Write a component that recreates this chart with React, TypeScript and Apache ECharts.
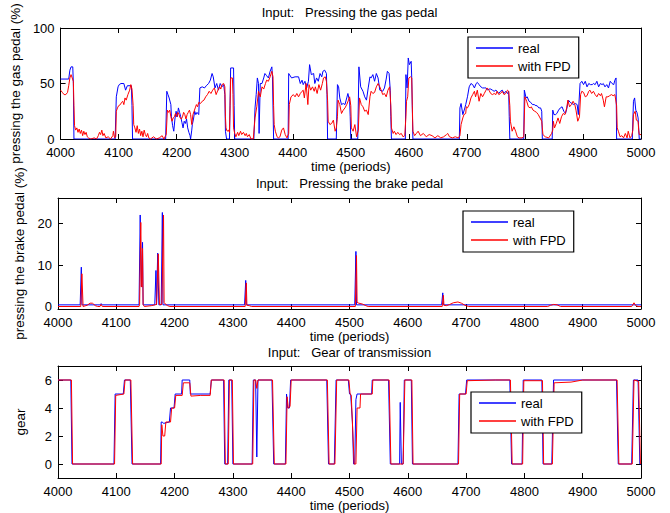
import React, { useEffect, useRef } from "react";
import * as echarts from "echarts";

const FONT = "Liberation Sans, Arial, Helvetica, sans-serif";

const titles = [
  "Input:   Pressing the gas pedal",
  "Input:   Pressing the brake pedal",
  "Input:   Gear of transmission",
];
const yNames = ["pressing the gas pedal (%)", "pressing the brake pedal (%)", "gear"];
const xName = "time (periods)";
const seriesNames = ["real", "with FPD"];

const xMin = 4000;
const xMax = 5000;
const xStep = 100;

const gasTicks = [0, 50, 100];
const brakeTicks = [0, 10, 20];
const gearTicks = [0, 2, 4, 6];

const gasReal = [
  [4000,54],[4014,54],[4016,62],[4018,65],[4021,65],[4022,50],[4023,0],
  [4094,0],[4096,38],[4099,47],[4101,49],[4104,50],[4109,50],[4112,44],[4115,48],[4122,48],[4123,30],[4124,0],
  [4181,0],[4183,43],[4185,40],[4187,37],[4190,31],[4191,20],[4193,12],[4195,7],[4197,18],[4199,25],[4201,20],[4203,28],[4205,24],[4207,20],[4209,15],[4211,10],[4213,16],[4215,14],[4217,18],[4219,10],[4221,6],[4223,3],[4224,0],[4226,8],[4227,13],[4229,18],[4231,25],[4233,22],[4235,24],[4238,22],[4240,46],[4244,47],[4248,46],[4251,48],[4255,50],[4258,53],[4261,59],[4263,56],[4266,46],[4269,50],[4272,44],[4275,50],[4278,47],[4281,49],[4283,40],[4284,7],[4286,0],[4291,0],[4293,64],[4298,64],[4299,30],[4300,0],
  [4333,0],[4335,28],[4337,40],[4339,55],[4341,50],[4342,5],[4344,50],[4347,50],[4350,55],[4352,59],[4355,57],[4358,55],[4361,61],[4364,65],[4365,56],[4367,0],
  [4392,0],[4393,59],[4398,55],[4404,56],[4410,56],[4413,50],[4416,53],[4418,49],[4421,52],[4424,46],[4427,52],[4429,67],[4432,58],[4436,59],[4438,50],[4441,55],[4444,52],[4447,59],[4450,56],[4452,61],[4455,62],[4458,59],[4459,40],[4460,0],
  [4475,0],[4477,49],[4479,47],[4481,37],[4484,31],[4487,32],[4490,31],[4493,37],[4495,41],[4498,34],[4499,20],[4500,0],
  [4512,0],[4514,65],[4517,47],[4521,43],[4524,38],[4527,35],[4530,46],[4533,56],[4535,55],[4538,58],[4541,52],[4544,59],[4547,55],[4550,44],[4555,43],[4558,46],[4561,54],[4563,61],[4566,59],[4568,44],[4569,20],[4570,0],
  [4594,0],[4595,58],[4597,46],[4599,73],[4601,67],[4604,70],[4605,55],[4607,0],
  [4687,0],[4688,28],[4690,32],[4693,22],[4696,27],[4698,31],[4701,38],[4704,47],[4707,50],[4710,49],[4713,46],[4716,50],[4718,51],[4721,49],[4724,47],[4727,46],[4730,46],[4733,46],[4736,44],[4738,45],[4741,45],[4744,44],[4747,43],[4750,44],[4752,43],[4755,41],[4758,43],[4761,44],[4764,41],[4767,43],[4770,41],[4772,43],[4773,20],[4774,0],
  [4798,0],[4799,44],[4802,37],[4804,38],[4807,34],[4810,33],[4813,31],[4816,31],[4819,30],[4821,30],[4824,28],[4827,28],[4829,25],[4830,0],
  [4847,0],[4848,26],[4850,22],[4853,22],[4855,23],[4858,26],[4861,28],[4864,29],[4867,25],[4870,23],[4872,27],[4875,35],[4878,33],[4881,32],[4884,31],[4887,32],[4890,31],[4892,22],[4895,50],[4898,52],[4901,49],[4904,52],[4907,47],[4910,50],[4913,49],[4916,49],[4918,50],[4921,49],[4924,52],[4927,47],[4930,50],[4933,49],[4935,50],[4938,47],[4941,49],[4944,46],[4947,52],[4950,50],[4953,49],[4955,53],[4957,55],[4958,0],
  [4985,0],[4987,34],[4989,37],[4991,26],[4993,24],[4995,19],[4996,10],[4997,0],[5000,0],
];

const gasFPD = [
  [4000,44],[4003,42],[4006,40],[4009,40],[4012,42],[4014,48],[4016,55],[4018,58],[4020,55],[4022,52],[4023,30],[4024,12],[4026,8],[4028,10],[4030,6],[4032,9],[4034,5],[4036,8],[4038,3],[4040,7],[4042,4],[4044,6],[4046,2],[4048,1],[4052,0],[4058,1],[4062,0],[4065,3],[4067,6],[4069,4],[4071,8],[4073,3],[4075,5],[4078,1],[4082,2],[4086,0],[4090,3],[4091,7],[4093,1],[4095,2],
  [4096,25],[4098,28],[4100,30],[4103,31],[4105,33],[4107,34],[4109,31],[4111,37],[4113,35],[4116,40],[4119,44],[4121,49],[4123,45],[4125,30],[4126,13],[4128,10],[4130,6],[4132,12],[4134,5],[4136,9],[4138,3],[4140,7],[4142,2],[4144,8],[4146,4],[4148,2],[4150,5],[4152,1],[4155,0],[4160,2],[4165,0],[4170,1],[4175,3],[4178,0],[4182,4],
  [4184,26],[4186,24],[4188,26],[4190,20],[4192,16],[4194,19],[4196,20],[4198,23],[4200,20],[4202,24],[4204,22],[4206,19],[4208,18],[4210,20],[4212,24],[4214,22],[4216,18],[4218,22],[4220,24],[4222,26],[4224,22],[4226,13],[4228,22],[4230,25],[4232,28],[4234,31],[4236,29],[4238,33],[4241,32],[4244,34],[4247,35],[4250,38],[4253,40],[4256,43],[4259,41],[4262,44],[4265,46],[4268,40],[4271,44],[4274,47],[4276,45],[4278,49],[4281,50],[4283,47],[4284,20],[4285,10],[4287,7],[4289,8],[4291,6],[4292,30],[4293,55],[4296,55],[4297,40],[4298,10],[4300,5],[4302,2],[4305,6],[4307,3],[4310,7],[4312,4],[4315,6],[4318,3],[4320,5],[4322,2],[4325,4],[4328,0],[4332,0],
  [4335,19],[4338,29],[4341,43],[4344,38],[4347,47],[4350,45],[4353,50],[4355,53],[4358,52],[4361,56],[4364,61],[4366,56],[4367,30],[4368,13],[4370,7],[4373,2],[4375,1],[4378,2],[4381,8],[4384,10],[4387,4],[4390,1],[4393,5],[4394,31],[4397,38],[4401,40],[4404,38],[4407,41],[4410,38],[4413,41],[4416,43],[4418,44],[4420,37],[4423,50],[4426,31],[4428,49],[4431,44],[4434,47],[4437,43],[4439,47],[4442,41],[4445,49],[4448,44],[4451,50],[4453,55],[4456,56],[4458,52],[4460,35],[4461,16],[4464,13],[4467,14],[4470,17],[4473,7],[4475,10],[4477,20],[4478,35],[4481,31],[4484,23],[4487,26],[4490,28],[4493,31],[4496,35],[4498,38],[4500,30],[4501,10],[4504,7],[4507,13],[4510,2],[4513,8],
  [4515,37],[4518,31],[4521,29],[4524,25],[4527,26],[4530,22],[4533,38],[4535,43],[4538,41],[4541,42],[4544,47],[4547,50],[4550,47],[4553,43],[4555,40],[4558,41],[4561,38],[4564,44],[4567,47],[4569,30],[4570,10],[4573,5],[4575,7],[4578,4],[4581,6],[4584,4],[4587,5],[4590,2],[4593,3],[4595,20],[4596,34],[4598,38],[4600,55],[4603,56],[4605,55],[4606,30],[4607,7],[4610,3],[4613,5],[4616,7],[4620,3],[4625,5],[4630,2],[4635,4],[4640,3],[4645,1],[4650,3],[4655,1],[4660,2],[4665,4],[4667,5],[4670,2],[4675,1],[4680,2],[4685,1],[4688,3],
  [4690,13],[4693,19],[4695,22],[4698,23],[4699,29],[4701,28],[4704,31],[4707,37],[4710,40],[4713,43],[4715,38],[4718,44],[4721,34],[4724,41],[4727,38],[4730,41],[4733,44],[4735,46],[4738,44],[4741,41],[4744,40],[4747,41],[4750,40],[4752,43],[4755,40],[4758,41],[4761,43],[4764,40],[4767,41],[4770,44],[4772,43],[4774,30],[4775,16],[4778,7],[4781,11],[4784,7],[4787,2],[4790,1],[4795,1],[4798,2],
  [4800,38],[4803,34],[4806,29],[4809,28],[4811,29],[4814,26],[4817,25],[4820,24],[4823,22],[4826,19],[4829,16],[4830,10],[4831,4],[4835,2],[4841,1],[4846,5],[4848,8],
  [4849,16],[4851,10],[4854,14],[4857,19],[4860,14],[4863,20],[4866,23],[4869,22],[4872,28],[4874,35],[4877,29],[4880,31],[4883,34],[4886,31],[4888,26],[4891,16],[4894,20],[4896,40],[4898,43],[4901,42],[4904,38],[4907,39],[4910,43],[4912,44],[4915,41],[4918,43],[4921,40],[4924,38],[4927,41],[4930,39],[4932,41],[4935,35],[4937,29],[4940,38],[4943,38],[4946,39],[4949,40],[4952,39],[4955,40],[4958,30],[4959,10],[4961,7],[4964,2],[4967,3],[4970,1],[4973,5],[4976,1],[4978,7],[4981,1],[4984,3],[4986,8],
  [4987,22],[4990,25],[4992,17],[4995,16],[4996,8],[4997,4],[5000,4],
];

const brakeReal = [
  [4000,0.4],[4038,0.4],[4040,9.5],[4041,0.4],[4073,0.4],[4074,0.7],[4075,0.4],[4139,0.4],[4141,22.1],[4143,4.7],[4145,15.5],[4146,0.4],[4166,0.4],[4168,8.7],[4169,0.4],[4171,12.9],[4173,0.4],[4177,0.4],[4179,22.7],[4180,0.4],[4320,0.4],[4322,6.3],[4323,0.4],[4509,0.4],[4511,13.3],[4512,0.4],[4658,0.4],[4660,3.3],[4661,0.4],[5000,0.4],
];

const brakeFPD = [
  [4000,0],[4039,0],[4041,7.9],[4043,0],[4050,0.3],[4055,0.8],[4059,0.8],[4064,0.2],[4068,0],[4072,0],[4074,0.5],[4076,0],[4139,0],[4140,0.5],[4142,20.3],[4143,5],[4144,4.7],[4145,14],[4146,0.5],[4148,0],[4160,0.2],[4166,0.4],[4169,0.5],[4172,12.7],[4174,0.5],[4178,0.5],[4181,22.1],[4182,1],[4184,0.6],[4188,0.2],[4192,0],[4321,0],[4323,5.7],[4324,0.3],[4328,0.2],[4332,0],[4510,0],[4512,12.3],[4513,1],[4516,0.8],[4522,0.6],[4528,0.2],[4532,0],[4659,0],[4661,2.7],[4662,0.3],[4666,0.2],[4672,0.5],[4678,0.9],[4686,1.1],[4692,0.8],[4698,0.3],[4704,0],[4840,0],[4845,0.3],[4850,0.5],[4856,0.4],[4862,0],[4984,0],[4988,0.9],[4991,0.2],[4995,0],[5000,0],
];

const gearReal = [
  [4000,6],[4022,6],[4024,0],[4096,0],[4098,5],[4112,5],[4114,6],[4124,6],[4127,0],[4176,0],[4177,3],[4179,3],[4181,2.9],[4191,3],[4193,4],[4199,4],[4201,5],[4212,5],[4213,6],[4226,6],[4227,5],[4261,5],[4263,6],[4284,6],[4286,0],[4291,0],[4293,6],[4298,6],[4300,0],[4333,0],[4335,6],[4339,6],[4341,0.5],[4343,6],[4367,6],[4370,0],[4390,0],[4392,5],[4394,4],[4397,4],[4399,6],[4461,6],[4464,0],[4474,0],[4477,6],[4498,6],[4500,5],[4502,5],[4505,3],[4507,0],[4509,0],[4511,4.6],[4513,5],[4538,5],[4539,6],[4567,6],[4570,0],[4586,0],[4587,4.4],[4589,0],[4592,0],[4594,6],[4606,6],[4608,0],[4686,0],[4688,5],[4699,5],[4701,6],[4775,6],[4778,0],[4796,0],[4798,6],[4830,6],[4832,0],[4847,0],[4850,6],[4958,6],[4961,0],[4984,0],[4987,6],[4995,6],[4998,0],[5000,0],
];

const gearFPD = [
  [4000,6],[4023,6],[4025,0],[4097,0],[4099,4.9],[4113,5],[4115,6],[4125,6],[4128,0],[4177,0],[4178,2.8],[4180,2],[4183,2],[4185,3],[4193,3],[4195,4],[4200,4],[4202,4.9],[4213,4.9],[4215,5.8],[4226,5.8],[4228,4.85],[4245,4.9],[4261,4.9],[4263,6],[4285,6],[4287,0],[4292,0],[4294,6],[4299,6],[4301,0],[4334,0],[4336,6],[4339,6],[4341,5.4],[4343,6],[4368,6],[4371,0],[4391,0],[4393,4.8],[4395,4],[4398,4.1],[4400,6],[4462,6],[4465,0],[4475,0],[4478,6],[4499,6],[4501,5],[4503,4.9],[4506,2],[4508,0],[4511,0],[4513,4],[4518,4],[4519,5],[4539,5],[4540,6],[4568,6],[4571,0],[4592,0],[4595,6],[4607,6],[4609,0],[4687,0],[4689,5],[4700,5],[4702,5.95],[4750,6],[4776,6],[4779,0],[4797,0],[4799,5.95],[4831,5.95],[4833,0],[4848,0],[4851,5.8],[4880,5.85],[4900,6],[4959,6],[4962,0],[4985,0],[4988,6],[4996,5.9],[4999,0],[5000,0],
];

const grids = [
  { left: 58, top: 28, width: 583, height: 111 },
  { left: 58, top: 198, width: 583, height: 111 },
  { left: 58, top: 366, width: 583, height: 112 },
];
const yRanges = [
  { min: 0, max: 100, ticks: gasTicks },
  { min: -0.6, max: 26.2, ticks: brakeTicks },
  { min: -1, max: 7, ticks: gearTicks },
];
const legendPos = [
  { left: 468, top: 37 },
  { left: 463, top: 211 },
  { left: 471, top: 392 },
];

export default function App() {
  const ref = useRef<HTMLDivElement>(null);
  useEffect(() => {
    if (!ref.current) return;
    const chart = echarts.init(ref.current, null, { renderer: "svg" });
    const black = "#000";
    const txt = { color: black, fontSize: 13, fontFamily: FONT };
    const plain = (v: number) => String(v);
    const xAxes: any[] = [];
    const yAxes: any[] = [];
    grids.forEach((g, i) => {
      xAxes.push({
        type: "value", gridIndex: i, position: "bottom", min: xMin, max: xMax, interval: xStep,
        axisLine: { show: true, onZero: false, lineStyle: { color: black, width: 1 } },
        axisTick: { inside: true, length: 5, lineStyle: { color: black } },
        axisLabel: { ...txt, margin: 7, formatter: plain },
        splitLine: { show: false },
        name: xName, nameLocation: "middle", nameGap: 19, nameTextStyle: { ...txt },
      });
      xAxes.push({
        type: "value", gridIndex: i, position: "top", min: xMin, max: xMax, interval: xStep,
        axisLine: { show: true, onZero: false, lineStyle: { color: black, width: 1 } },
        axisTick: { inside: true, length: 5, lineStyle: { color: black } },
        axisLabel: { show: false },
        splitLine: { show: false },
      });
      const r = yRanges[i];
      yAxes.push({
        type: "value", gridIndex: i, position: "left", min: r.min, max: r.max,
        axisLine: { show: true, onZero: false, lineStyle: { color: black, width: 1 } },
        axisTick: { inside: true, length: 5, lineStyle: { color: black }, customValues: r.ticks },
        axisLabel: { ...txt, margin: 6, customValues: r.ticks, formatter: plain },
        splitLine: { show: false },
        name: yNames[i], nameLocation: "middle", nameGap: 31, nameTextStyle: { ...txt, fontSize: 13.5 },
      });
      yAxes.push({
        type: "value", gridIndex: i, position: "right", min: r.min, max: r.max,
        axisLine: { show: true, onZero: false, lineStyle: { color: black, width: 1 } },
        axisTick: { inside: true, length: 5, lineStyle: { color: black }, customValues: r.ticks },
        axisLabel: { show: false },
        splitLine: { show: false },
      });
    });
    const pairs = [
      [gasReal, gasFPD],
      [brakeReal, brakeFPD],
      [gearReal, gearFPD],
    ];
    const series: any[] = [];
    pairs.forEach((p, i) => {
      series.push({
        type: "line", name: seriesNames[0], data: p[0], xAxisIndex: i * 2, yAxisIndex: i * 2,
        symbol: "none", showSymbol: false, lineStyle: { color: "#0000ff", width: 1 }, itemStyle: { color: "#0000ff" }, z: 2,
      });
      series.push({
        type: "line", name: seriesNames[1], data: p[1], xAxisIndex: i * 2, yAxisIndex: i * 2,
        symbol: "none", showSymbol: false, lineStyle: { color: "#ff0000", width: 1 }, itemStyle: { color: "#ff0000" }, z: 3,
      });
    });
    const legends = legendPos.map((lp) => ({
      left: lp.left, top: lp.top, orient: "vertical", data: seriesNames,
      padding: [4, 8, 5, 8], itemGap: 4, itemWidth: 37, itemHeight: 1.5, icon: "rect",
      borderColor: black, borderWidth: 1.2, backgroundColor: "#fff",
      textStyle: { ...txt, lineHeight: 14 }, selectedMode: false,
    }));
    const titleY = [12, 183, 352];
    const graphic = titles.map((t, i) => ({
      type: "text", x: 349.5, y: titleY[i], z: 10,
      style: { text: t, fill: black, fontSize: 13, fontFamily: FONT, align: "center", verticalAlign: "middle" },
    }));
    chart.setOption({
      animation: false,
      backgroundColor: "#fff",
      grid: grids,
      xAxis: xAxes,
      yAxis: yAxes,
      series,
      legend: legends,
      graphic,
    });
    return () => chart.dispose();
  }, []);
  return <div ref={ref} style={{ width: 670, height: 513, position: "absolute", left: 0, top: 0 }} />;
}
